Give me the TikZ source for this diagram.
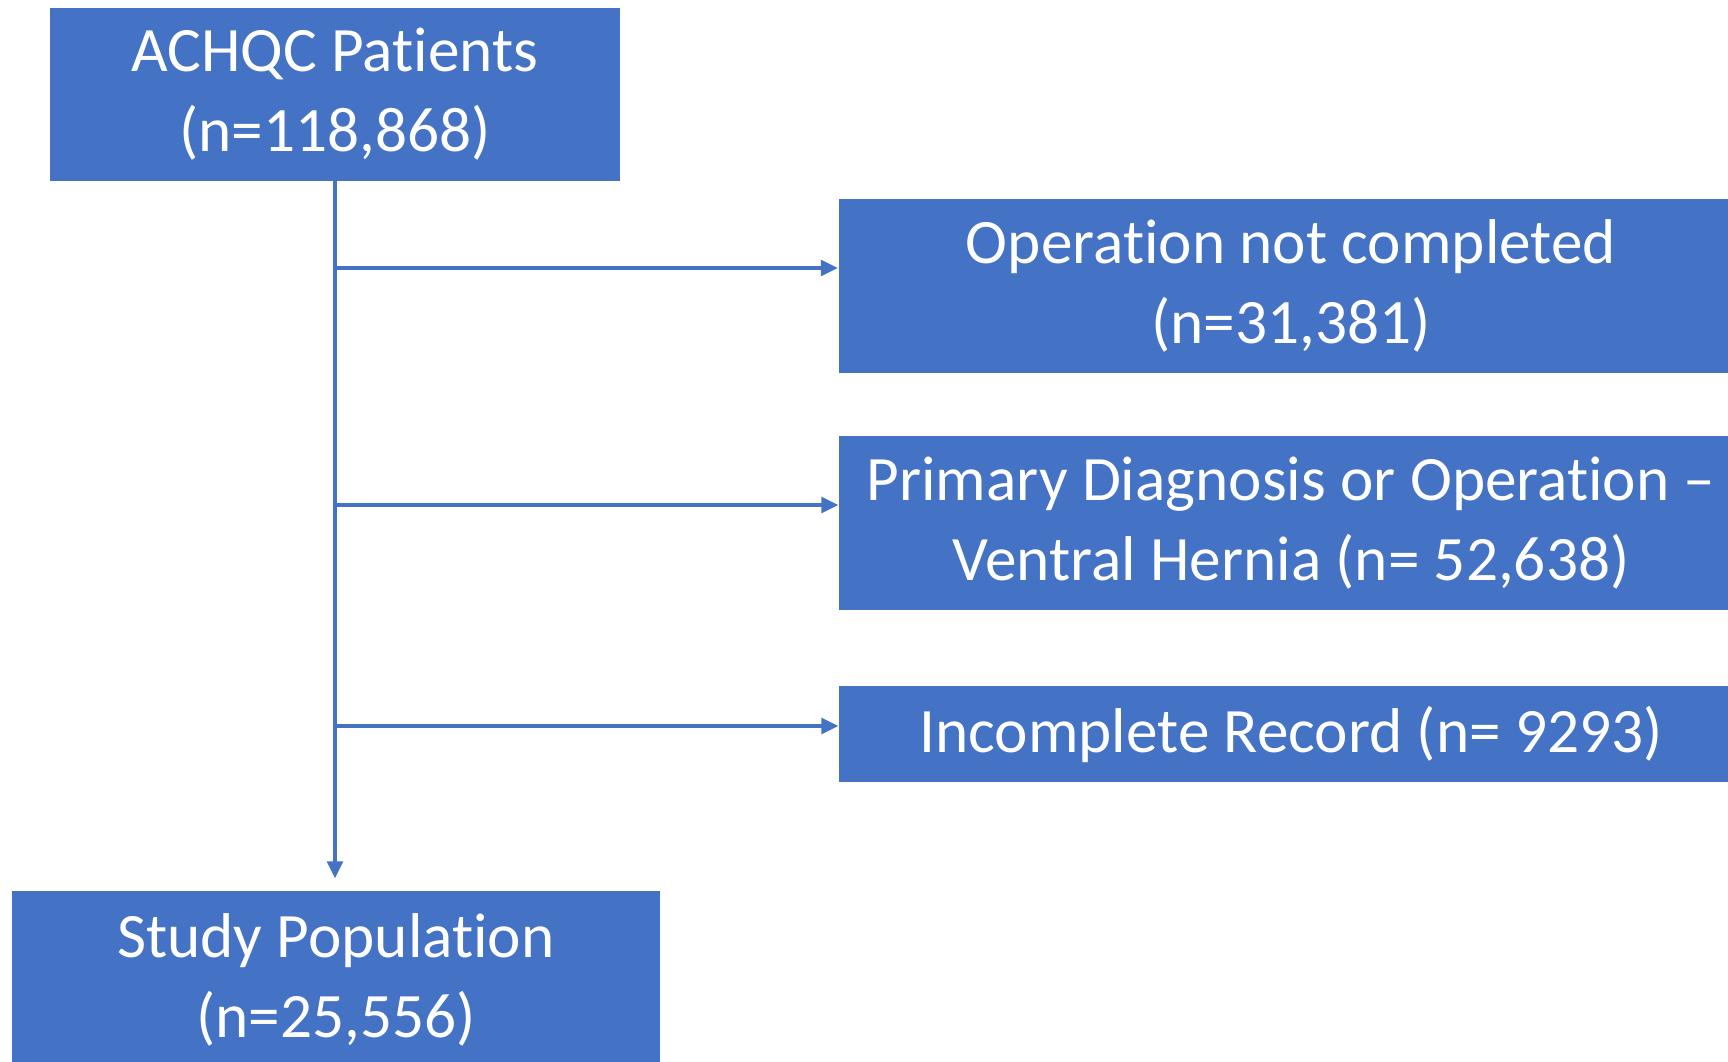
\documentclass[tikz,border=0pt]{standalone}
\usepackage{fontspec}
\setmainfont{Carlito}[RawFeature={-liga;-clig;-dlig;-calt}]
\usepackage{xcolor}
\usepackage{tikz}
\usetikzlibrary{arrows.meta}

\definecolor{boxblue}{HTML}{4472C4}

\tikzset{
	box/.style={rectangle,fill=boxblue,text=white,inner sep=0pt,align=center,
		font=\fontsize{18}{22.6}\selectfont},
}

\begin{document}
\begin{tikzpicture}
		\useasboundingbox (0,0) rectangle (17.28,10.61);
		\clip (0,0) rectangle (17.28,10.61);
		%
		\node[box,minimum width=5.70cm,minimum height=1.73cm] (P) at (3.35,9.67) {ACHQC Patients\\(n=118,868)};
		\node[box,minimum width=9.05cm,minimum height=1.735cm] (O) at (12.91,7.75) {Operation not completed\\(n=31,381)};
		\node[box,minimum width=9.04cm,minimum height=1.745cm] (D) at (12.91,5.38) {Primary Diagnosis or Operation --\\Ventral Hernia (n= 52,638)};
		\node[box,minimum width=9.04cm,minimum height=0.96cm] (R) at (12.91,3.27) {Incomplete Record (n= 9293)};
		\node[box,minimum width=6.48cm,minimum height=1.78cm] (S) at (3.36,0.81) {Study Population\\(n=25,556)};
		%
		\coordinate (o) at ([yshift=0.18cm]O.west);
		\coordinate (d) at ([yshift=0.18cm]D.west);
		\coordinate (r) at ([yshift=0.08cm]R.west);
		%
		\path[->,color=boxblue,line width=0.9pt,>={Triangle[length=0.17cm,width=0.16cm]}]
		% vertical arrow
		(P.south) edge[shorten >=0.12cm] (P.south |- S.north)
		% horizontal arrows
		(P.south |- o) edge (o)
		(P.south |- d) edge (d)
		(P.south |- r) edge (r);
	\end{tikzpicture}
\end{document}
